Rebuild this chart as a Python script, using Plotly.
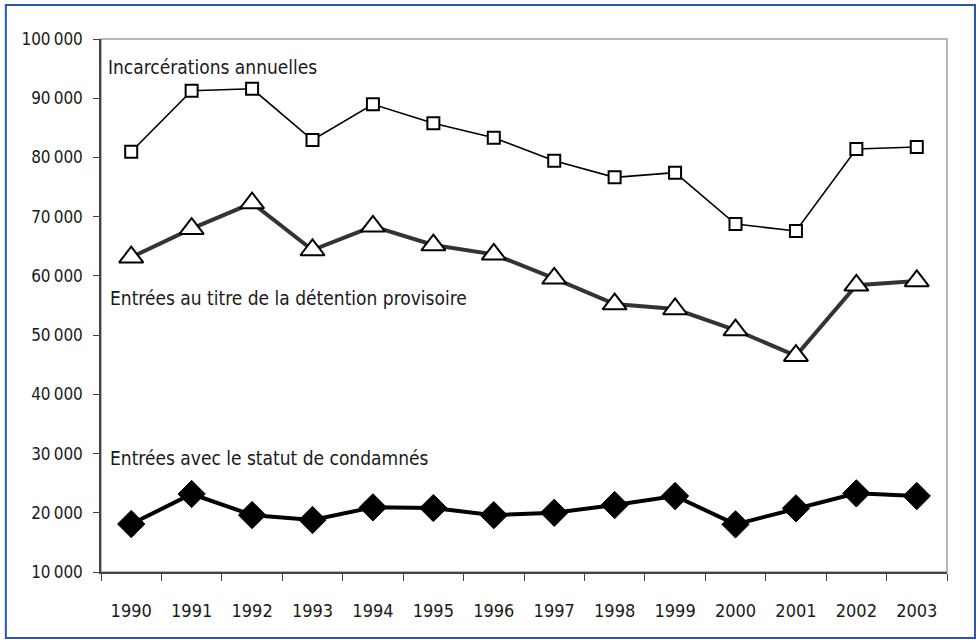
import plotly.graph_objects as go

years = ["1990", "1991", "1992", "1993", "1994", "1995", "1996",
         "1997", "1998", "1999", "2000", "2001", "2002", "2003"]
incarcerations = [80970, 91270, 91610, 82940, 88970, 85760, 83330,
                  79450, 76640, 77430, 68760, 67580, 81430, 81760]
detention_provisoire = [63150, 67970, 72300, 64370, 68370, 65210, 63640,
                        59590, 55250, 54410, 50860, 46520, 58410, 59140]
condamnes = [18100, 23170, 19620, 18780, 20920, 20800, 19600,
             20000, 21310, 22830, 18050, 20750, 23280, 22830]

y_tickvals = [10000, 20000, 30000, 40000, 50000, 60000, 70000, 80000, 90000, 100000]
y_ticktext = ["10\u202f000", "20\u202f000", "30\u202f000", "40\u202f000", "50\u202f000",
              "60\u202f000", "70\u202f000", "80\u202f000", "90\u202f000", "100\u202f000"]

label_incarc = "Incarcérations annuelles"
label_detention = "Entrées au titre de la détention provisoire"
label_condamnes = "Entrées avec le statut de condamnés"

FONT = "DejaVu Sans Condensed, Liberation Sans Narrow, sans-serif"

L, R, T, B = 100.7, 947.0, 39.0, 572.0
W, H = R - L, B - T

fig = go.Figure()

fig.add_trace(go.Scatter(
    x=years, y=condamnes, mode="lines+markers", name=label_condamnes,
    line=dict(color="#000000", width=4),
    marker=dict(symbol="diamond", size=21, color="#000000",
                line=dict(color="#000000", width=1)),
))
fig.add_trace(go.Scatter(
    x=years, y=detention_provisoire, mode="lines+markers", name=label_detention,
    line=dict(color="#333333", width=4),
    marker=dict(symbol="triangle-up", size=21, color="#ffffff",
                line=dict(color="#000000", width=2)),
))
fig.add_trace(go.Scatter(
    x=years, y=incarcerations, mode="lines+markers", name=label_incarc,
    line=dict(color="#000000", width=1.6),
    marker=dict(symbol="square", size=12, color="#ffffff",
                line=dict(color="#000000", width=2)),
))

fig.add_shape(type="rect", xref="paper", yref="paper", x0=0, y0=0, x1=1, y1=1,
              line=dict(color="#a0a0a0", width=1.5), layer="below")
fig.add_shape(type="rect", xref="paper", yref="paper",
              x0=(5.5 - L) / W, x1=(975 - L) / W,
              y0=(B - 638) / H, y1=(B - 5) / H,
              line=dict(color="#2a55b0", width=2))

for text, px, py in [(label_incarc, 106, 67),
                     (label_detention, 108, 298),
                     (label_condamnes, 108, 458)]:
    fig.add_annotation(text=text, xref="paper", yref="paper",
                       x=(px - L) / W, y=(B - py) / H,
                       xanchor="left", yanchor="middle", showarrow=False,
                       font=dict(family=FONT, size=19, color="#1a1a1a"))

fig.update_layout(
    width=978, height=643,
    margin=dict(l=L, r=978 - R, t=T, b=643 - B, autoexpand=False),
    paper_bgcolor="#ffffff", plot_bgcolor="#ffffff",
    showlegend=False,
    font=dict(family=FONT, size=18, color="#1a1a1a"),
    xaxis=dict(
        type="category", range=[-0.5, 13.5], automargin=False,
        tickson="boundaries", ticks="outside", ticklen=7, tickwidth=1.2,
        tickcolor="#444444",
        showline=True, linecolor="#444444", linewidth=1.5,
        showgrid=False, zeroline=False,
        ticklabelstandoff=22,
        tickfont=dict(family=FONT, size=18, color="#1a1a1a"),
    ),
    yaxis=dict(
        range=[10000, 100000], tickvals=y_tickvals, ticktext=y_ticktext,
        automargin=False,
        ticks="outside", ticklen=6, tickwidth=1.2, tickcolor="#444444",
        showline=True, linecolor="#444444", linewidth=1.5,
        showgrid=False, zeroline=False,
        ticklabelstandoff=7,
        tickfont=dict(family=FONT, size=17, color="#1a1a1a"),
    ),
)

fig.write_html("out.html",
               config={"displayModeBar": False},
               post_script="document.body.style.margin='0';document.body.style.overflow='hidden';")
